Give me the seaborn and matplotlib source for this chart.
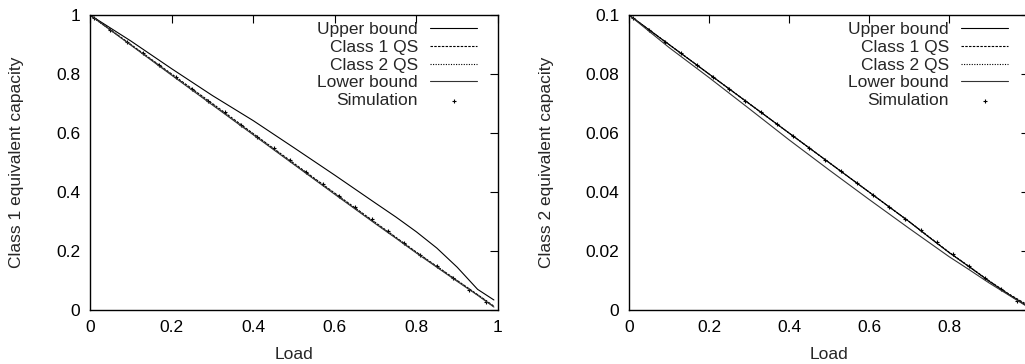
import numpy as np
import pandas as pd
import matplotlib
matplotlib.use("Agg")
import matplotlib.pyplot as plt
import seaborn as sns

# ---------------- data ----------------
load = [0.0, 0.1, 0.2, 0.3, 0.4, 0.5, 0.6, 0.7, 0.75, 0.8, 0.85, 0.9, 0.95, 0.99]

c1_upper = [1.0, 0.912, 0.818, 0.727, 0.642, 0.55, 0.457, 0.362, 0.315, 0.265, 0.21, 0.145, 0.07, 0.034]
c1_qs1 = [1.0, 0.90, 0.80, 0.70, 0.598, 0.497, 0.396, 0.296, 0.246, 0.196, 0.148, 0.10, 0.052, 0.013]
c1_qs2 = [0.999, 0.899, 0.798, 0.697, 0.596, 0.495, 0.394, 0.294, 0.245, 0.195, 0.147, 0.099, 0.051, 0.011]
c1_lower = [1.0, 0.898, 0.796, 0.695, 0.594, 0.493, 0.392, 0.292, 0.243, 0.193, 0.145, 0.097, 0.05, 0.01]

c2_upper = [0.1, 0.09, 0.08, 0.07, 0.06, 0.05, 0.04, 0.03, 0.0247, 0.0195, 0.0147, 0.0098, 0.0052, 0.0018]
c2_qs1 = [0.1, 0.09, 0.08, 0.07, 0.06, 0.05, 0.04, 0.03, 0.0248, 0.0196, 0.0148, 0.0099, 0.0054, 0.0022]
c2_qs2 = [0.1, 0.09, 0.08, 0.07, 0.06, 0.05, 0.04, 0.03, 0.0247, 0.0195, 0.0147, 0.0098, 0.0053, 0.0020]
c2_lower = [0.1, 0.089, 0.0788, 0.0683, 0.0577, 0.0475, 0.0375, 0.0277, 0.0229, 0.0181, 0.0137, 0.0092, 0.005, 0.0016]

sim_load = [0.01, 0.05, 0.09, 0.13, 0.17, 0.21, 0.25, 0.29, 0.33, 0.37, 0.41, 0.45, 0.49,
            0.53, 0.57, 0.61, 0.65, 0.69, 0.73, 0.77, 0.81, 0.85, 0.89, 0.93, 0.97]
c1_sim = [0.99, 0.95, 0.91, 0.87, 0.83, 0.79, 0.75, 0.71, 0.67, 0.628, 0.588, 0.548, 0.508,
          0.468, 0.428, 0.388, 0.348, 0.308, 0.268, 0.228, 0.188, 0.148, 0.108, 0.068, 0.028]
c2_sim = [0.099, 0.095, 0.091, 0.087, 0.083, 0.079, 0.075, 0.071, 0.067, 0.063, 0.059, 0.055, 0.051,
          0.047, 0.043, 0.039, 0.035, 0.031, 0.027, 0.023, 0.019, 0.015, 0.011, 0.007, 0.003]

series_labels = ["Upper bound", "Class 1 QS", "Class 2 QS", "Lower bound", "Simulation"]
x_label = "Load"
y_labels = ["Class 1 equivalent capacity", "Class 2 equivalent capacity"]
x_ticks = [0, 0.2, 0.4, 0.6, 0.8, 1]
x_ticklabels_1 = ["0", "0.2", "0.4", "0.6", "0.8", "1"]
x_ticklabels_2 = ["0", "0.2", "0.4", "0.6", "0.8", ""]
y_ticks_1 = [0, 0.2, 0.4, 0.6, 0.8, 1]
y_ticklabels_1 = ["0", "0.2", "0.4", "0.6", "0.8", "1"]
y_ticks_2 = [0, 0.02, 0.04, 0.06, 0.08, 0.1]
y_ticklabels_2 = ["0", "0.02", "0.04", "0.06", "0.08", "0.1"]

# ---------------- style ----------------
sns.set_theme(style="white")
plt.rcParams["font.family"] = ["Liberation Sans", "DejaVu Sans"]
plt.rcParams["font.size"] = 12.5
plt.rcParams["axes.edgecolor"] = "black"
plt.rcParams["axes.linewidth"] = 1.0

FS = 12.5
W, H = 1025, 364
fig = plt.figure(figsize=(W / 100, H / 100), dpi=100)

def px_axes(x0, x1, y0, y1):
    return fig.add_axes([x0 / W, 1 - y1 / H, (x1 - x0) / W, (y1 - y0) / H])

ax1 = px_axes(90, 498, 15, 310)
ax2 = px_axes(629, 1029, 15, 310)

styles = [
    dict(linestyle="-"),
    dict(linestyle=(0, (2.2, 1.2))),
    dict(linestyle=(0, (1.0, 1.3))),
    dict(linestyle="-", color="#333333"),
]

def draw(ax, ys, sim, yticks, yticklabels, xticklabels, ylabel):
    for y, lab, st in zip(ys, series_labels[:4], styles):
        kw = dict(color="black", linewidth=0.8)
        kw.update(st)
        sns.lineplot(x=load, y=y, ax=ax, label=lab, **kw)
    sns.scatterplot(x=sim_load, y=sim, ax=ax, marker="+", color="black",
                    s=10, linewidth=0.8, label=series_labels[4])
    ax.set_xlim(0, 1)
    ax.set_ylim(yticks[0], yticks[-1])
    ax.set_xticks(x_ticks)
    ax.set_xticklabels(xticklabels)
    ax.set_yticks(yticks)
    ax.set_yticklabels(yticklabels)
    ax.tick_params(direction="in", length=6, width=0.8, top=True, right=True,
                   labelsize=FS, colors="black", pad=7)
    ax.set_xlabel(x_label, fontsize=FS, va="top")
    ax.set_ylabel(ylabel, fontsize=FS)
    for s in ax.spines.values():
        s.set_visible(True)
        s.set_color("black")
        s.set_linewidth(1.0)
    leg = ax.legend(loc="upper right", frameon=False, markerfirst=False,
                    fontsize=FS, handlelength=2.7, handletextpad=0.7,
                    labelspacing=0.15, borderaxespad=0, borderpad=0,
                    bbox_to_anchor=(1 - 21 / ax.bbox.width, 1 - 7 / ax.bbox.height))
    for vp in leg._legend_box._children[-1]._children:
        vp.align = "right"

draw(ax1, [c1_upper, c1_qs1, c1_qs2, c1_lower], c1_sim, y_ticks_1, y_ticklabels_1,
     x_ticklabels_1, y_labels[0])
draw(ax2, [c2_upper, c2_qs1, c2_qs2, c2_lower], c2_sim, y_ticks_2, y_ticklabels_2,
     x_ticklabels_2, y_labels[1])

ax1.yaxis.set_label_coords((24 - 90) / 408, 0.5)
ax2.yaxis.set_label_coords((554 - 629) / 400, 0.5)
ax1.xaxis.set_label_coords(0.5, (310 - 347) / 295)
ax2.xaxis.set_label_coords(0.5, (310 - 347) / 295)

fig.savefig("out.png", dpi=100, facecolor="white")
